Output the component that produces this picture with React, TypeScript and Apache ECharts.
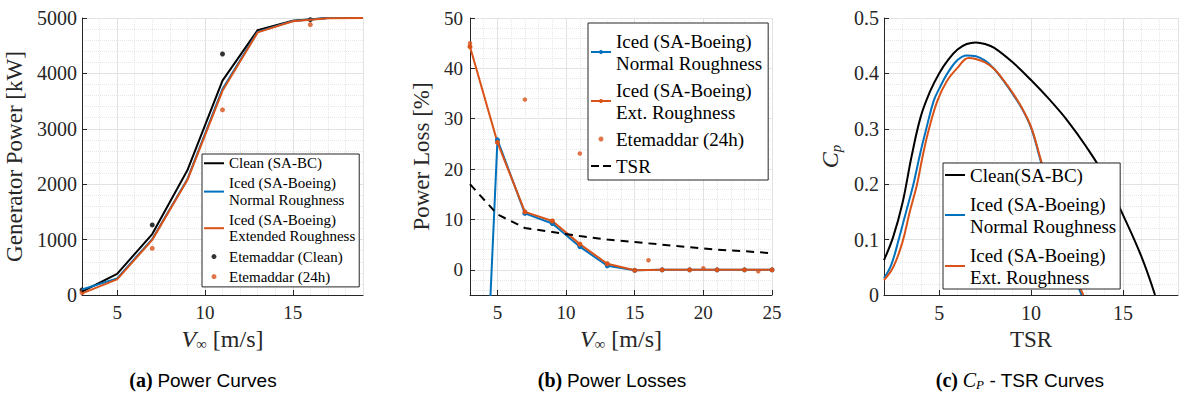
import React, { useEffect, useRef } from "react";
import * as echarts from "echarts";

// ---------- data: (a) power curves ----------
const speedA = [3, 5, 7, 9, 11, 13, 15, 17, 19];
const cleanPower = [60, 380, 1100, 2250, 3870, 4780, 4950, 5000, 5000];
const icedNormalPower = [100, 300, 1010, 2090, 3720, 4750, 4945, 5000, 5000];
const icedExtPower = [30, 283, 995, 2075, 3685, 4740, 4940, 4995, 5000];
const etemSpeedA = [3, 7, 11, 16];
const etemCleanPower = [90, 1265, 4350, 4970];
const etem24Power = [42, 843, 3343, 4880];

// ---------- data: (b) power losses ----------
const speedB = [3, 5, 7, 9, 11, 13, 15, 17, 19, 21, 23, 25];
const lossNormal = [-96, 25.8, 11.2, 9.2, 4.6, 0.8, -0.1, 0, 0, 0, 0, 0];
const lossExt = [44.3, 25.3, 11.5, 9.7, 5.1, 1.2, -0.1, 0, 0, 0, 0, 0];
const etemSpeedB = [3, 7, 11, 16, 20, 24];
const etemLoss = [45, 33.8, 23.1, 1.9, 0.3, -0.3];
const tsrLine = [17.0, 11.0, 8.3, 7.5, 6.7, 6.0, 5.5, 5.0, 4.5, 4.0, 3.7, 3.3];

// ---------- data: (c) Cp - TSR ----------
const tsrClean = [2, 2.5, 3, 3.5, 4, 4.5, 5, 5.5, 6, 6.5, 7, 7.5, 8, 9, 10, 11, 12, 13, 14, 15, 16, 16.75];
const cpClean = [0.063, 0.105, 0.165, 0.25, 0.322, 0.367, 0.4, 0.425, 0.443, 0.453, 0.456, 0.453, 0.446, 0.42, 0.388, 0.353, 0.314, 0.268, 0.215, 0.145, 0.07, 0];
const tsrNormal = [2, 2.4, 2.8, 3.2, 3.6, 4, 4.3, 4.7, 5, 5.45, 6, 6.5, 7, 7.5, 8, 8.5, 9, 9.5, 10, 10.5, 11, 11.5, 12, 12.5, 12.75];
const cpNormal = [0.03, 0.055, 0.1, 0.15, 0.2, 0.26, 0.3, 0.35, 0.372, 0.4, 0.424, 0.4325, 0.431, 0.423, 0.408, 0.387, 0.363, 0.337, 0.302, 0.245, 0.185, 0.128, 0.072, 0.022, 0];
const tsrExt = [2, 2.5, 3, 3.4, 3.8, 4.1, 4.45, 4.9, 5.4, 6, 6.6, 7, 7.5, 8, 8.5, 9, 9.5, 10, 10.5, 11, 11.5, 12, 12.5, 12.85];
const cpExt = [0.027, 0.05, 0.095, 0.15, 0.2, 0.25, 0.3, 0.35, 0.385, 0.41, 0.428, 0.426, 0.42, 0.408, 0.388, 0.365, 0.338, 0.304, 0.248, 0.19, 0.133, 0.077, 0.027, 0];

// ---------- styles ----------
const SERIF = "Liberation Serif, DejaVu Serif, serif";
const SANS = "Liberation Sans, DejaVu Sans, sans-serif";
const BLUE = "#0072BD";
const ORANGE = "#D95319";
const BLACK = "#000000";
const AXIS = "#262626";
const MAJOR = "#e2e2e2";
const MINOR = "#e6e6e6";
const LINE_ICON = "path://M0,0H20V2H0Z";
const DASH_ICON = "path://M0,0H8V2H0Z M12,0H20V2H12Z";

const pairs = (xs: number[], ys: number[]) => xs.map((x, i) => [x, ys[i]]);

function minorAxis(kind: "x" | "y", min: number, max: number, step: number, color: any = MINOR) {
  return {
    type: "value",
    min,
    max,
    interval: step,
    position: kind === "x" ? "top" : "right",
    axisLine: { show: false },
    axisTick: { show: false },
    axisLabel: { show: false },
    splitLine: { show: true, lineStyle: { color, width: 1, type: "dotted" } },
  };
}

function majorAxis(kind: "x" | "y", o: any) {
  return {
    type: "value",
    min: o.min,
    max: o.max,
    ...(o.fixed ? { interval: o.step } : { minInterval: o.step, maxInterval: o.step }),
    position: kind === "x" ? "bottom" : "left",
    axisLine: { show: true, onZero: false, lineStyle: { color: AXIS, width: 1 } },
    axisTick: { show: true, inside: true, length: 5, lineStyle: { color: AXIS, width: 1 } },
    axisLabel: {
      show: true,
      color: AXIS,
      fontFamily: SERIF,
      fontSize: o.fontSize,
      margin: o.labelMargin,
      showMinLabel: o.showMin,
      showMaxLabel: o.showMax,
      formatter: (v: number) => `{t|${Math.round(v * 1000) / 1000}}`,
      rich: { t: { fontFamily: SERIF, fontSize: o.fontSize, color: AXIS } },
    },
    splitLine: { show: true, lineStyle: { color: MAJOR, width: 1 } },
    name: o.name,
    nameLocation: "middle",
    nameGap: o.nameGap,
    nameTextStyle: o.nameStyle,
  };
}

const vName = (size: number) => ({
  name: "{i|V}{s|∞}{n| [m/s]}",
  nameStyle: {
    color: AXIS,
    fontFamily: SERIF,
    rich: {
      i: { fontFamily: SERIF, fontStyle: "italic", fontSize: size, color: AXIS, lineHeight: size + 2 },
      s: { fontFamily: SERIF, fontSize: size * 0.62, color: AXIS, verticalAlign: "bottom", lineHeight: size * 0.62 },
      n: { fontFamily: SERIF, fontSize: size, color: AXIS, lineHeight: size + 2 },
    },
  },
});

const plainName = (size: number) => ({ fontFamily: SERIF, fontSize: size, color: AXIS });

const caption = (x: number, label: string, rest: any[]) => ({
  type: "text",
  x,
  y: 380,
  style: {
    text: `{b|${label}} ` + rest.map((r) => `{${r[0]}|${r[1]}}`).join(""),
    fontFamily: SERIF,
    fontSize: 19,
    rich: {
      b: { fontFamily: SERIF, fontWeight: "bold", fontSize: 20, fill: "#000" },
      n: { fontFamily: SANS, fontSize: 19, fill: "#000" },
      i: { fontFamily: SERIF, fontStyle: "italic", fontSize: 20, fill: "#000", lineHeight: 22 },
      s: { fontFamily: SERIF, fontStyle: "italic", fontSize: 13, fill: "#000", verticalAlign: "bottom", lineHeight: 13 },
    },
    align: "center",
    verticalAlign: "middle",
  },
});

const legendBase = (left: number, top: number, fontSize: number, lineHeight: number, itemGap: number, padding: number[]) => ({
  left,
  top,
  orient: "vertical",
  itemWidth: 20,
  itemHeight: 5,
  itemGap,
  padding,
  backgroundColor: "#ffffff",
  borderColor: AXIS,
  borderWidth: 1,
  borderRadius: 0,
  selectedMode: false,
  formatter: (name: string) => name.split("\n").map((l) => `{t|${l}}`).join("\n"),
  textStyle: {
    fontFamily: SERIF,
    fontSize,
    color: "#000",
    lineHeight,
    rich: { t: { fontFamily: SERIF, fontSize, color: "#000", lineHeight } },
  },
});

const gridOf = (left: number, right: number) => ({
  left,
  right,
  top: 18,
  bottom: 99,
  containLabel: false,
  outerBoundsMode: "none",
});

const base = {
  animation: false,
  textStyle: { fontFamily: SERIF },
};

// ---------- option (a) ----------
const N_NORMAL = "Iced (SA-Boeing)\nNormal Roughness";
const N_EXTENDED = "Iced (SA-Boeing)\nExtended Roughness";
const N_EXT = "Iced (SA-Boeing)\nExt. Roughness";

const optionA = {
  ...base,
  grid: gridOf(82, 30),
  xAxis: [
    minorAxis("x", 3, 19, 1),
    majorAxis("x", { min: 3, max: 19, step: 5, fontSize: 19, labelMargin: 8, showMin: false, showMax: false, nameGap: 28, ...vName(24) }),
  ],
  yAxis: [
    minorAxis("y", 0, 5000, 200),
    majorAxis("y", { min: 0, max: 5000, step: 1000, fixed: true, fontSize: 20, labelMargin: 5, showMin: true, showMax: true, name: "Generator Power [kW]", nameGap: 50, nameStyle: plainName(23) }),
  ],
  legend: {
    ...legendBase(202, 154, 15, 16.5, 3.6, [1, 4, 2, 2]),
    data: [
      { name: "Clean (SA-BC)", icon: LINE_ICON },
      { name: N_NORMAL, icon: LINE_ICON },
      { name: N_EXTENDED, icon: LINE_ICON },
      { name: "Etemaddar (Clean)", icon: "circle" },
      { name: "Etemaddar (24h)", icon: "circle" },
    ],
  },
  series: [
    { type: "line", name: "Clean (SA-BC)", xAxisIndex: 1, yAxisIndex: 1, data: pairs(speedA, cleanPower), symbol: "none", lineStyle: { color: BLACK, width: 2 }, itemStyle: { color: BLACK } },
    { type: "line", name: N_NORMAL, xAxisIndex: 1, yAxisIndex: 1, data: pairs(speedA, icedNormalPower), symbol: "none", lineStyle: { color: BLUE, width: 2 }, itemStyle: { color: BLUE } },
    { type: "line", name: N_EXTENDED, xAxisIndex: 1, yAxisIndex: 1, data: pairs(speedA, icedExtPower), symbol: "none", lineStyle: { color: ORANGE, width: 2 }, itemStyle: { color: ORANGE } },
    { type: "scatter", name: "Etemaddar (Clean)", xAxisIndex: 1, yAxisIndex: 1, data: pairs(etemSpeedA, etemCleanPower), symbolSize: 5, itemStyle: { color: BLACK } },
    { type: "scatter", name: "Etemaddar (24h)", xAxisIndex: 1, yAxisIndex: 1, data: pairs(etemSpeedA, etem24Power), symbolSize: 5, itemStyle: { color: ORANGE } },
  ],
  graphic: [caption(203, "(a)", [["n", "Power Curves"]])],
};

// ---------- option (b) ----------
const optionB = {
  ...base,
  grid: gridOf(77, 14),
  xAxis: [
    minorAxis("x", 3, 25, 1),
    majorAxis("x", { min: 3, max: 25, step: 5, fontSize: 19, labelMargin: 8, showMin: false, showMax: true, nameGap: 28, ...vName(24) }),
  ],
  yAxis: [
    minorAxis("y", -5, 50, 1, ["rgba(0,0,0,0)", MINOR]),
    majorAxis("y", { min: -5, max: 50, step: 10, fontSize: 19, labelMargin: 7, showMin: false, showMax: true, name: "Power Loss [%]", nameGap: 30, nameStyle: plainName(23) }),
  ],
  legend: {
    ...legendBase(195, 23, 19, 22, 5, [7, 6, 3, 2]),
    data: [
      { name: N_NORMAL },
      { name: N_EXT },
      { name: "Etemaddar (24h)", icon: "circle" },
      { name: "TSR", icon: DASH_ICON },
    ],
  },
  series: [
    { type: "line", name: N_NORMAL, xAxisIndex: 1, yAxisIndex: 1, data: pairs(speedB, lossNormal), symbol: "circle", symbolSize: 5, lineStyle: { color: BLUE, width: 2 }, itemStyle: { color: BLUE } },
    { type: "line", name: N_EXT, xAxisIndex: 1, yAxisIndex: 1, data: pairs(speedB, lossExt), symbol: "circle", symbolSize: 5, lineStyle: { color: ORANGE, width: 2 }, itemStyle: { color: ORANGE } },
    { type: "scatter", name: "Etemaddar (24h)", xAxisIndex: 1, yAxisIndex: 1, data: pairs(etemSpeedB, etemLoss), symbolSize: 4.5, itemStyle: { color: ORANGE } },
    { type: "line", name: "TSR", xAxisIndex: 1, yAxisIndex: 1, data: pairs(speedB, tsrLine), symbol: "none", lineStyle: { color: BLACK, width: 2, type: [8, 6] }, itemStyle: { color: BLACK } },
  ],
  graphic: [caption(219, "(b)", [["n", "Power Losses"]])],
};

// ---------- option (c) ----------
const optionC = {
  ...base,
  grid: gridOf(98, 1),
  xAxis: [
    minorAxis("x", 2, 18, 1),
    majorAxis("x", { min: 2, max: 18, step: 5, fontSize: 20, labelMargin: 8, showMin: false, showMax: false, name: "TSR", nameGap: 28, nameStyle: plainName(23) }),
  ],
  yAxis: [
    minorAxis("y", 0, 0.5, 0.02),
    majorAxis("y", {
      min: 0, max: 0.5, step: 0.1, fixed: true, fontSize: 20, labelMargin: 5, showMin: true, showMax: true,
      name: "{i|C}{s|p}", nameGap: 32,
      nameStyle: {
        color: AXIS,
        fontFamily: SERIF,
        rich: {
          i: { fontFamily: SERIF, fontStyle: "italic", fontSize: 24, color: AXIS, lineHeight: 26 },
          s: { fontFamily: SERIF, fontStyle: "italic", fontSize: 15, color: AXIS, verticalAlign: "bottom", lineHeight: 15 },
        },
      },
    }),
  ],
  legend: {
    ...legendBase(157, 163, 19, 22, 7, [1, 4, 1, 2]),
    data: [
      { name: "Clean(SA-BC)", icon: LINE_ICON },
      { name: N_NORMAL, icon: LINE_ICON },
      { name: N_EXT, icon: LINE_ICON },
    ],
  },
  series: [
    { type: "line", name: "Clean(SA-BC)", xAxisIndex: 1, yAxisIndex: 1, data: pairs(tsrClean, cpClean), symbol: "none", smooth: 0.4, lineStyle: { color: BLACK, width: 2 }, itemStyle: { color: BLACK } },
    { type: "line", name: N_NORMAL, xAxisIndex: 1, yAxisIndex: 1, data: pairs(tsrNormal, cpNormal), symbol: "none", smooth: 0.4, lineStyle: { color: BLUE, width: 2 }, itemStyle: { color: BLUE } },
    { type: "line", name: N_EXT, xAxisIndex: 1, yAxisIndex: 1, data: pairs(tsrExt, cpExt), symbol: "none", smooth: 0.4, lineStyle: { color: ORANGE, width: 2 }, itemStyle: { color: ORANGE } },
  ],
  graphic: [caption(234, "(c)", [["i", "C"], ["s", "P"], ["n", " - TSR Curves"]])],
};

function Panel({ option, left, width }: { option: any; left: number; width: number }) {
  const ref = useRef<HTMLDivElement>(null);
  useEffect(() => {
    const chart = echarts.init(ref.current as HTMLDivElement, null, { renderer: "svg" });
    chart.setOption(option);
    return () => chart.dispose();
  }, [option]);
  return <div ref={ref} style={{ position: "absolute", left, top: 0, width, height: 394 }} />;
}

export default function App() {
  return (
    <div style={{ position: "fixed", left: 0, top: 0, width: 1179, height: 394, background: "#ffffff", overflow: "hidden" }}>
      <Panel option={optionA} left={0} width={393} />
      <Panel option={optionB} left={393} width={393} />
      <Panel option={optionC} left={786} width={393} />
    </div>
  );
}
